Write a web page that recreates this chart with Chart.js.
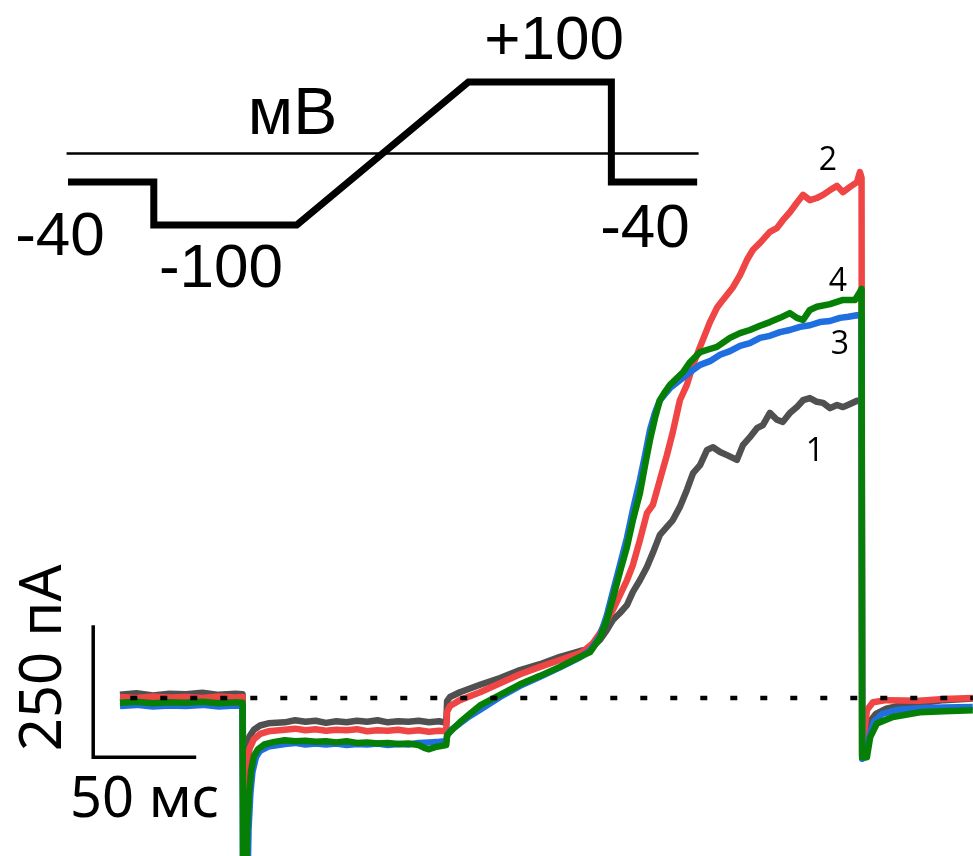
<!DOCTYPE html>
<html>
<head>
<meta charset="utf-8">
<title>Токи при ступенчато-рамповом протоколе</title>
<script src="https://cdn.jsdelivr.net/npm/chart.js@4.4.1/dist/chart.umd.min.js"></script>
<style>
  html, body { margin: 0; padding: 0; background: #ffffff; }
  canvas { display: block; }
</style>
</head>
<body>
<canvas id="traceChart" width="973" height="856"></canvas>
<script>

// ======================
// VOLTAGE PROTOCOL (ms, mV)
// ======================

const protoTime = [0, 60, 60, 160, 280, 380, 380, 440];
const protoVolt = [-40, -40, -100, -100, 100, 100, -40, -40];

const zeroTime = [-1, 441];
const zeroVolt = [0, 0];


// ======================
// CURRENT TRACES (ms, pA)
// ======================

const grayTime = [0, 8, 16, 24, 32, 40, 48, 56, 59.5, 59.8, 61.5, 63, 65, 68, 72, 80, 85, 90, 95, 100, 105, 110, 115, 120, 125, 130, 135, 140, 145, 150, 155, 158.4, 158.8, 160.2, 165, 174.8, 184.5, 194.2, 203.9, 213.6, 223.3, 228.2, 233.0, 236.4, 239.3, 242.7, 246.1, 249.0, 252.4, 255.8, 258.7, 262.1, 265.5, 268.4, 271.8, 275.2, 278.2, 281.6, 285.0, 287.9, 291.3, 294.7, 299.5, 302.4, 305.8, 309.2, 312.1, 315.5, 318.9, 321.8, 325.2, 328.6, 331.6, 334.9, 338.3, 341.3, 344.7, 348.1, 351.0, 354.4, 357.8, 360, 360.3, 361.5, 364, 367, 372, 380, 390, 400, 414];
const grayCurrent = [6, 9, 5, 8, 7, 10, 6, 8, 7, -130, -92, -72, -60, -52, -48, -46, -42, -45, -43, -47, -44, -46, -43, -45, -42, -46, -44, -45, -43, -46, -44, -47, -6, 2, 11, 25, 38, 53, 64, 78, 89, 93, 110, 129, 148, 161, 176, 201, 223, 248, 275, 309, 324, 337, 362, 394, 426, 441, 470, 475, 466, 460, 451, 479, 494, 511, 517, 540, 527, 523, 540, 551, 564, 568, 561, 559, 549, 555, 551, 557, 563, 562, -110, -80, -45, -30, -20, -13, -9, -4, -1];

const redTime = [0, 8, 16, 24, 32, 40, 48, 56, 59.5, 59.8, 61.5, 63, 65, 68, 72, 80, 85, 90, 95, 100, 105, 110, 115, 120, 125, 130, 135, 140, 145, 150, 155, 158.4, 158.8, 160.2, 165, 174.8, 184.5, 194.2, 203.9, 213.6, 223.3, 225.7, 229.6, 233.0, 236.4, 239.3, 242.7, 246.1, 249.0, 252.4, 255.8, 258.7, 262.1, 265.5, 268.4, 271.8, 275.2, 278.2, 281.6, 286.4, 289.8, 292.7, 297.6, 301.0, 304.4, 307.3, 310.7, 315.5, 318.9, 321.8, 325.2, 328.6, 331.6, 334.9, 338.3, 341.3, 344.7, 348.1, 351.0, 354.4, 357.8, 359.2, 360, 360.3, 361.5, 362.6, 365.5, 372, 388, 400, 414];
const redCurrent = [2, 0, 3, 1, 2, 0, 3, 1, 2, -190, -125, -95, -78, -68, -63, -60, -58, -61, -59, -62, -60, -61, -59, -63, -61, -62, -60, -63, -61, -64, -62, -63, -26, -15, -4, 11, 28, 45, 59, 72, 85, 91, 104, 123, 148, 167, 195, 223, 252, 299, 350, 366, 413, 460, 504, 564, 593, 631, 665, 712, 739, 754, 778, 801, 830, 849, 862, 883, 890, 905, 920, 938, 953, 943, 947, 953, 962, 970, 958, 968, 977, 996, 985, -110, -60, -23, -8, -4, -5, -2, 0];

const blueTime = [0, 8, 16, 24, 32, 40, 48, 56, 59.5, 59.8, 61.6, 62.4, 63.3, 64.3, 66, 68, 72, 80, 85, 90, 95, 100, 105, 110, 115, 120, 125, 130, 135, 140, 145, 150, 155, 158.4, 158.8, 160.2, 162.6, 165, 169.9, 174.8, 184.5, 194.2, 203.9, 213.6, 223.3, 228.2, 233.0, 236.4, 239.3, 242.7, 246.1, 249.0, 252.4, 254.9, 257.3, 259.7, 262.1, 267.0, 271.8, 276.7, 281.6, 286.4, 291.3, 296.1, 301.0, 305.8, 310.7, 315.5, 320.4, 325.2, 330.1, 334.9, 339.8, 344.7, 349.5, 353.6, 357.8, 360, 360.3, 362, 364, 366, 370, 378, 390, 400, 414];
const blueCurrent = [-15, -13, -16, -14, -15, -13, -16, -14, -15, -420, -420, -250, -180, -140, -112, -100, -92, -87, -85, -88, -86, -88, -86, -89, -87, -88, -86, -89, -87, -88, -85, -84, -83, -82, -72, -62, -55, -48, -34, -22, 2, 23, 40, 58, 77, 90, 117, 157, 201, 252, 303, 356, 413, 460, 508, 540, 564, 587, 602, 617, 631, 638, 650, 657, 667, 672, 682, 686, 693, 697, 703, 706, 712, 714, 720, 722, 725, 724, -115, -112, -70, -45, -30, -22, -19, -18, -17];

const greenTime = [0, 8, 16, 24, 32, 40, 48, 56, 59.5, 59.8, 61.0, 61.8, 62.6, 63.6, 65, 67, 70, 75, 80, 85, 90, 95, 100, 105, 110, 115, 120, 125, 130, 135, 140, 145, 148, 150, 153, 158.4, 158.8, 162.6, 165, 169.9, 174.8, 184.5, 194.2, 203.9, 213.6, 223.3, 228.2, 233.0, 236.4, 239.3, 242.7, 246.1, 249.0, 252.4, 254.9, 257.3, 259.7, 262.1, 264.6, 267.0, 270.4, 273.3, 276.7, 281.6, 286.4, 289.8, 296.1, 301.0, 305.8, 310.7, 315.5, 320.4, 325.2, 328.6, 331.6, 334.9, 338.3, 344.7, 351.0, 356.8, 359.2, 360, 360.3, 362.6, 364.2, 367.5, 375.2, 388.3, 400, 414];
const greenCurrent = [-9, -7, -10, -8, -9, -7, -10, -8, -9, -420, -420, -250, -185, -138, -110, -97, -88, -83, -80, -82, -81, -83, -82, -84, -82, -85, -84, -86, -85, -87, -86, -89, -95, -97, -93, -89, -70, -55, -46, -30, -14, 6, 26, 42, 59, 78, 87, 114, 148, 189, 239, 286, 337, 388, 441, 489, 530, 564, 580, 593, 606, 617, 636, 655, 661, 665, 682, 691, 697, 705, 712, 720, 729, 720, 716, 735, 741, 746, 754, 754, 769, 775, -112, -112, -74, -48, -36, -27, -25, -23];


// ======================
// BASELINE + SCALE BAR
// ======================

const baseTime = [5, 414];
const baseCurrent = [0, 0];

const barTime = [-13, -13, 37];
const barCurrent = [138, -112, -112];


// ======================
// COLORS
// ======================

const grayColor = "#505050";
const redColor = "#f04545";
const blueColor = "#1f6fe0";
const greenColor = "#067f06";
const inkColor = "#000000";


// ======================
// HELPERS
// ======================

function toPoints(xs, ys) {

  return xs.map((x, i) => ({ x, y: ys[i] }));

}

function traceSet(label, xs, ys, color, order) {

  return {
    label,
    data: toPoints(xs, ys),
    borderColor: color,
    borderWidth: 6.5,
    borderJoinStyle: "round",
    pointRadius: 0,
    tension: 0,
    order
  };

}


// ======================
// TEXT LABELS
// ======================

const labelPlugin = {

  id: "labelPlugin",

  afterDatasetsDraw(chart) {

    const ctx = chart.ctx;
    const s = chart.scales;

    const inset = "62px 'Liberation Sans'";
    const digits = "32px 'Open Sans'";

    const notes = [
      { text: "+100", x: s.x2.getPixelForValue(340), y: s.y2.getPixelForValue(156), font: inset },
      { text: "мВ", x: s.x2.getPixelForValue(157), y: s.y2.getPixelForValue(27), font: "66px 'Liberation Sans'", base: "alphabetic" },
      { text: "-40", x: s.x2.getPixelForValue(-5.6), y: s.y2.getPixelForValue(-118), font: inset },
      { text: "-100", x: s.x2.getPixelForValue(107), y: s.y2.getPixelForValue(-163), font: inset },
      { text: "-40", x: s.x2.getPixelForValue(403.5), y: s.y2.getPixelForValue(-107), font: inset },

      { text: "2", x: s.x.getPixelForValue(343.7), y: s.y.getPixelForValue(1017), font: digits },
      { text: "4", x: s.x.getPixelForValue(348.5), y: s.y.getPixelForValue(788), font: digits },
      { text: "3", x: s.x.getPixelForValue(349.5), y: s.y.getPixelForValue(669), font: digits },
      { text: "1", x: s.x.getPixelForValue(337.4), y: s.y.getPixelForValue(466), font: digits },

      { text: "50 мс", x: s.x.getPixelForValue(12), y: s.y.getPixelForValue(-195), font: "56px 'Noto Sans'" },
      { text: "250 пА", x: s.x.getPixelForValue(-36.5), y: s.y.getPixelForValue(76), font: "58px 'Noto Sans'", rotate: -Math.PI / 2 }
    ];

    ctx.save();
    ctx.fillStyle = inkColor;
    ctx.textAlign = "center";

    notes.forEach(note => {

      ctx.save();
      ctx.font = note.font;
      ctx.textBaseline = note.base || "middle";
      ctx.translate(note.x, note.y);

      if(note.rotate) {
        ctx.rotate(note.rotate);
      }

      ctx.fillText(note.text, 0, 0);
      ctx.restore();

    });

    ctx.restore();

  }

};


// ======================
// CHART
// ======================

const canvas = document.getElementById("traceChart");

new Chart(canvas, {

  type: "line",

  data: {

    datasets: [

      {
        label: "0 мВ",
        data: toPoints(zeroTime, zeroVolt),
        xAxisID: "x2",
        yAxisID: "y2",
        borderColor: inkColor,
        borderWidth: 2.5,
        pointRadius: 0,
        order: 6
      },

      {
        label: "протокол",
        data: toPoints(protoTime, protoVolt),
        xAxisID: "x2",
        yAxisID: "y2",
        borderColor: inkColor,
        borderWidth: 7,
        borderJoinStyle: "miter",
        pointRadius: 0,
        tension: 0,
        order: 5
      },

      traceSet("1", grayTime, grayCurrent, grayColor, 4),
      traceSet("2", redTime, redCurrent, redColor, 3),
      traceSet("3", blueTime, blueCurrent, blueColor, 2),
      traceSet("4", greenTime, greenCurrent, greenColor, 1),

      {
        label: "0 пА",
        data: toPoints(baseTime, baseCurrent),
        borderColor: inkColor,
        borderWidth: 4.5,
        borderDash: [7, 23],
        pointRadius: 0,
        order: 0
      },

      {
        label: "масштаб",
        data: toPoints(barTime, barCurrent),
        borderColor: inkColor,
        borderWidth: 3.5,
        borderJoinStyle: "miter",
        pointRadius: 0,
        order: 0
      }

    ]

  },

  options: {

    responsive: false,
    devicePixelRatio: 1,
    animation: false,
    layout: { padding: 0 },

    plugins: {
      legend: { display: false },
      tooltip: { enabled: false }
    },

    scales: {
      x: { type: "linear", min: -58.25, max: 414.1, display: false },
      y: { type: "linear", min: -299.2, max: 1322, display: false },
      x2: { type: "linear", min: -47.55, max: 632.9, display: false },
      y2: { type: "linear", min: -982.5, max: 214.7, display: false }
    }

  },

  plugins: [labelPlugin]

});

</script>
</body>
</html>
